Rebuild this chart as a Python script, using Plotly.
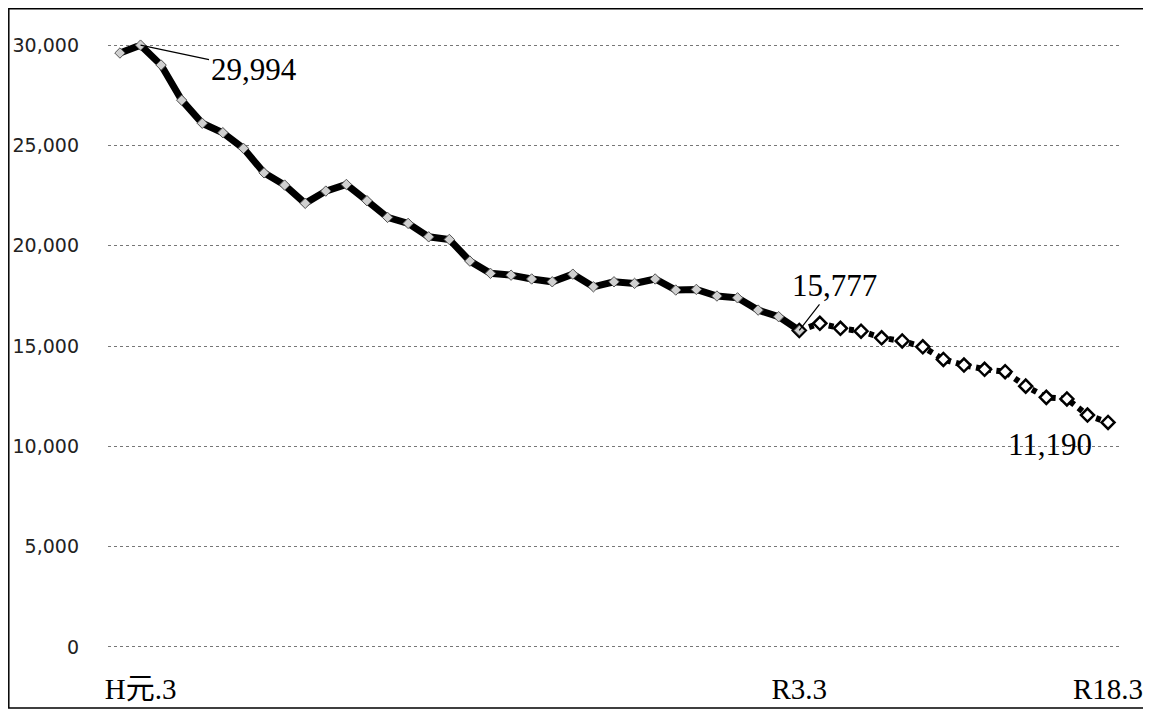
import plotly.graph_objects as go

# Actual values, S63.3 (1988) .. R3.3 (2021)
actual_years = list(range(1988, 2022))
actual_values = [29600, 29994, 29000, 27250, 26100, 25630, 24850, 23630, 23020, 22110,
                 22720, 23050, 22240, 21410, 21110, 20440, 20310,
                 19230, 18620, 18530, 18340, 18200, 18580, 17950, 18200, 18120,
                 18340, 17790, 17820, 17490, 17400, 16790, 16460, 15777]

# Projection, R3.3 (2021) .. R18.3 (2036)
proj_years = list(range(2021, 2037))
proj_values = [15777, 16130, 15880, 15740, 15410, 15250, 14960, 14330, 14050, 13840,
               13720, 13000, 12440, 12360, 11560, 11190]

tick_years = [1989, 2021, 2036]
tick_labels = ["H元.3", "R3.3", "R18.3"]
y_ticks = [0, 5000, 10000, 15000, 20000, 25000, 30000]

serif = "Liberation Serif, Noto Sans CJK JP, serif"

fig = go.Figure()

fig.add_trace(go.Scatter(
    x=proj_years, y=proj_values, mode="lines+markers",
    line=dict(color="black", width=6, dash="5px,5.3px"),
    marker=dict(symbol="diamond", size=10, color="white",
                line=dict(color="black", width=2.5)),
    cliponaxis=False, showlegend=False, hoverinfo="x+y"))

fig.add_trace(go.Scatter(
    x=actual_years, y=actual_values, mode="lines+markers",
    line=dict(color="black", width=7),
    marker=dict(symbol="diamond", size=8, color="#d0d0d0",
                line=dict(color="#555555", width=1)),
    cliponaxis=False, showlegend=False, hoverinfo="x+y"))

fig.add_annotation(x=1989, y=29994, text="29,994", showarrow=True, ax=113, ay=24,
                   arrowhead=0, arrowwidth=1.2, arrowcolor="black", standoff=0,
                   font=dict(family=serif, size=31, color="black"))
fig.add_annotation(x=2021, y=15777, text="15,777", showarrow=True, ax=35, ay=-45,
                   arrowhead=0, arrowwidth=1.2, arrowcolor="black", standoff=0,
                   font=dict(family=serif, size=31, color="black"))
fig.add_annotation(x=2036, y=11190, text="11,190", showarrow=False,
                   xshift=-58, yshift=-22,
                   font=dict(family=serif, size=31, color="black"))

# page body adds an 8px offset; figure sized to the visible area
W, H = 1143, 705
L, R, T, B = 100, 31, 35, 64
pw, ph = W - L - R, H - T - B
fig.add_shape(type="rect", xref="paper", yref="paper",
              x0=(0.8 - L) / pw, x1=(1140 - L) / pw,
              y0=(H - B - 700) / ph, y1=(H - B - 0.8) / ph,
              line=dict(color="black", width=1.5), layer="below")

fig.update_layout(
    width=W, height=H,
    margin=dict(l=L, r=R, t=T, b=B, autoexpand=False),
    plot_bgcolor="white", paper_bgcolor="white",
    xaxis=dict(range=[1987.42, 2036.58], tickmode="array", tickvals=tick_years,
               ticktext=tick_labels, showgrid=False, zeroline=False, showline=False,
               ticks="", ticklabelstandoff=20, automargin=False,
               tickfont=dict(family=serif, size=29, color="black")),
    yaxis=dict(range=[-100, 30100], tickmode="array", tickvals=y_ticks,
               tickformat=",d", showgrid=True, gridcolor="#777777", griddash="dot",
               gridwidth=1, zeroline=False, showline=False, ticks="",
               ticklabelstandoff=28, automargin=False,
               tickfont=dict(family="DejaVu Sans", size=19, color="#222222")),
)

fig.write_html("out.html")
